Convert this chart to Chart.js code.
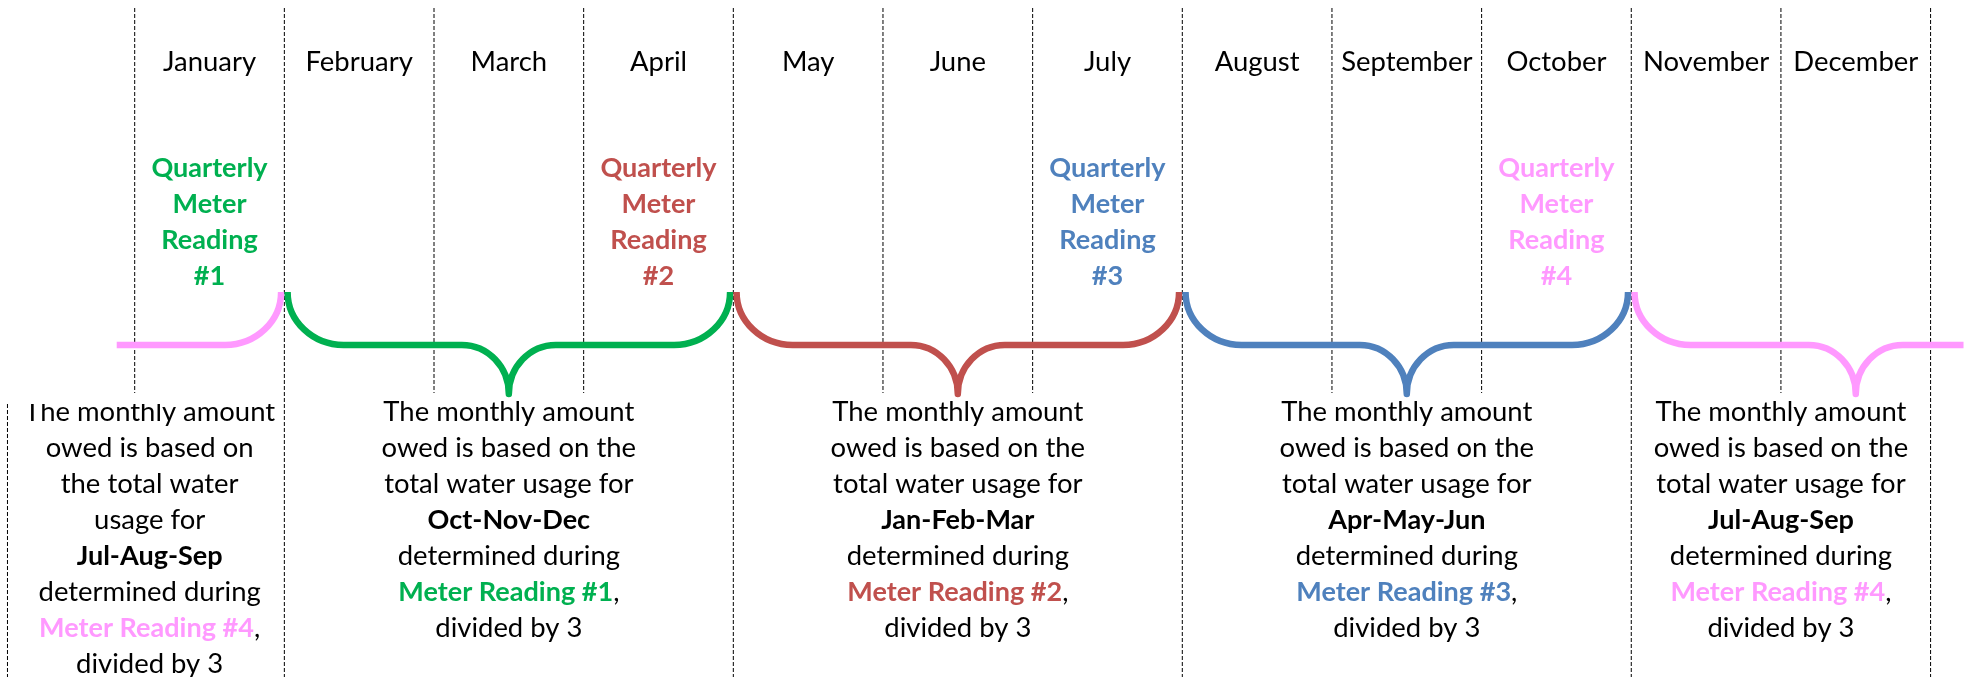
<!DOCTYPE html>
<html>
<head>
<meta charset="utf-8">
<title>Quarterly meter readings</title>
<script src="https://cdn.jsdelivr.net/npm/chart.js@4.4.1/dist/chart.umd.min.js"></script>
<style>
  html, body { margin: 0; padding: 0; background: #fff; }
  #wrap { position: relative; width: 1971px; height: 677px; }
</style>
</head>
<body>
<div id="wrap"><canvas id="chart"></canvas></div>
<script>
// ---- data ----
const months = ['January', 'February', 'March', 'April', 'May', 'June',
  'July', 'August', 'September', 'October', 'November', 'December'];

// meter readings: month index where each one happens
const readingMonths = [0, 3, 6, 9];
const readingNames = ['#1', '#2', '#3', '#4'];
const readingColors = ['#00B050', '#C0504D', '#4F81BD', '#FF99FF'];

// billing periods (braces): first month, and which reading they're billed from
const periodStarts = [-2, 1, 4, 7, 10];
const periodReading = [3, 0, 1, 2, 3];
const usageQuarters = ['Jul-Aug-Sep', 'Oct-Nov-Dec', 'Jan-Feb-Mar', 'Apr-May-Jun', 'Jul-Aug-Sep'];
const noteCenters = [0.1, 2.5, 5.5, 8.5, 11];

const introNarrow = ['The monthly amount', 'owed is based on', 'the total water', 'usage for'];
const introWide = ['The monthly amount', 'owed is based on the', 'total water usage for'];

// ---- layout / style ----
const FAMILY = "Lato, 'Open Sans', sans-serif";
const X_MIN = -0.9, X_MAX = 12.27;
const Y = {
  top: 8, shortEnd: 393, bottom: 677,
  month: 71, reading: 177,
  braceTop: 292, braceMid: 345, braceTip: 394,
  note: 421, noteBoxTop: 404
};
const LINE_H = 36;
const NOTE_BOX_LEFT = -0.85;
const BRACE_CLIP = [-0.12, 12.22];
const BRACE_W = 6.5, R_END = 56, R_CUSP = 47;

// ---- dashed month separators ----
const boundaries = months.map((m, i) => i).concat([months.length]);
const isPeriodEdge = i => i === months.length || periodStarts.includes(i);
const dashStyle = { borderColor: '#000', borderWidth: 1, borderDash: [4, 2], pointRadius: 0, fill: false };

const datasets = boundaries.map(i => ({
  ...dashStyle,
  data: [{ x: i, y: Y.top }, { x: i, y: isPeriodEdge(i) ? Y.bottom : Y.shortEnd }]
}));
datasets.push({ ...dashStyle, data: [{ x: NOTE_BOX_LEFT, y: Y.noteBoxTop }, { x: NOTE_BOX_LEFT, y: Y.bottom }] });

// ---- fonts fitted to the original widths ----
let fonts = null;
function setupFonts(ctx) {
  if (fonts) return fonts;
  ctx.save();
  ctx.font = `400 100px ${FAMILY}`;
  const reg = 100 * 251 / ctx.measureText('The monthly amount').width;
  ctx.font = `700 100px ${FAMILY}`;
  const bold = 100 * 215 / ctx.measureText('Meter Reading #1').width;
  ctx.restore();
  fonts = { regular: `400 ${reg.toFixed(2)}px ${FAMILY}`, bold: `700 ${bold.toFixed(2)}px ${FAMILY}` };
  return fonts;
}

function drawRuns(ctx, runs, cx, y) {
  const f = setupFonts(ctx);
  let total = 0;
  runs.forEach(r => {
    ctx.font = r.bold ? f.bold : f.regular;
    r.w = ctx.measureText(r.text).width;
    total += r.w;
  });
  let x = cx - total / 2;
  ctx.textAlign = 'left';
  ctx.textBaseline = 'alphabetic';
  runs.forEach(r => {
    ctx.font = r.bold ? f.bold : f.regular;
    ctx.fillStyle = r.color || '#000';
    ctx.fillText(r.text, x, y);
    x += r.w;
  });
}

function bracePath(ctx, xs, xe, top, mid, tip) {
  const k = 0.5523;
  const xm = (xs + xe) / 2;
  const ry1 = mid - top, ry2 = tip - mid;
  ctx.moveTo(xs, top);
  ctx.bezierCurveTo(xs, top + k * ry1, xs + R_END - k * R_END, mid, xs + R_END, mid);
  ctx.lineTo(xm - R_CUSP, mid);
  ctx.bezierCurveTo(xm - R_CUSP + k * R_CUSP, mid, xm, tip - k * ry2, xm, tip);
  ctx.bezierCurveTo(xm, tip - k * ry2, xm + R_CUSP - k * R_CUSP, mid, xm + R_CUSP, mid);
  ctx.lineTo(xe - R_END, mid);
  ctx.bezierCurveTo(xe - R_END + k * R_END, mid, xe, top + k * ry1, xe, top);
}

const diagramPlugin = {
  id: 'diagram',
  afterDatasetsDraw(chart) {
    const { ctx, scales: { x, y } } = chart;
    const H = chart.height;

    // braces
    ctx.save();
    ctx.beginPath();
    const cl = x.getPixelForValue(BRACE_CLIP[0]), cr = x.getPixelForValue(BRACE_CLIP[1]);
    ctx.rect(cl, 0, cr - cl, H);
    ctx.clip();
    ctx.lineWidth = BRACE_W;
    ctx.lineCap = 'butt';
    ctx.lineJoin = 'round';
    periodStarts.forEach((s, i) => {
      ctx.beginPath();
      bracePath(ctx,
        x.getPixelForValue(s) + BRACE_W / 2,
        x.getPixelForValue(s + 3) - BRACE_W / 2,
        y.getPixelForValue(Y.braceTop), y.getPixelForValue(Y.braceMid), y.getPixelForValue(Y.braceTip));
      ctx.strokeStyle = readingColors[periodReading[i]];
      ctx.stroke();
    });
    ctx.restore();

    // month labels
    months.forEach((m, i) => {
      drawRuns(ctx, [{ text: m }], x.getPixelForValue(i + 0.5), y.getPixelForValue(Y.month));
    });

    // reading labels
    readingMonths.forEach((mi, r) => {
      const col = readingColors[r];
      ['Quarterly', 'Meter', 'Reading', readingNames[r]].forEach((t, k) => {
        drawRuns(ctx, [{ text: t, bold: true, color: col }],
          x.getPixelForValue(mi + 0.5), y.getPixelForValue(Y.reading + k * LINE_H));
      });
    });

    // notes under each brace
    usageQuarters.forEach((q, i) => {
      const r = periodReading[i];
      const lines = (i === 0 ? introNarrow : introWide).map(t => [{ text: t }]);
      lines.push([{ text: q, bold: true }]);
      lines.push([{ text: 'determined during' }]);
      lines.push([{ text: 'Meter Reading ' + readingNames[r], bold: true, color: readingColors[r] }, { text: ',' }]);
      lines.push([{ text: 'divided by 3' }]);
      ctx.save();
      if (i === 0) {
        const top = y.getPixelForValue(Y.noteBoxTop);
        ctx.beginPath();
        ctx.rect(0, top, chart.width, H - top);
        ctx.clip();
      }
      lines.forEach((runs, k) => {
        drawRuns(ctx, runs, x.getPixelForValue(noteCenters[i]), y.getPixelForValue(Y.note + k * LINE_H));
      });
      ctx.restore();
    });
  }
};

new Chart(document.getElementById('chart'), {
  type: 'line',
  data: { datasets },
  options: {
    animation: false,
    responsive: true,
    maintainAspectRatio: false,
    layout: { padding: 0 },
    scales: {
      x: { type: 'linear', display: false, min: X_MIN, max: X_MAX },
      y: { type: 'linear', display: false, min: 0, max: Y.bottom, reverse: true }
    },
    plugins: { legend: { display: false }, tooltip: { enabled: false } }
  },
  plugins: [diagramPlugin]
});
</script>
</body>
</html>
